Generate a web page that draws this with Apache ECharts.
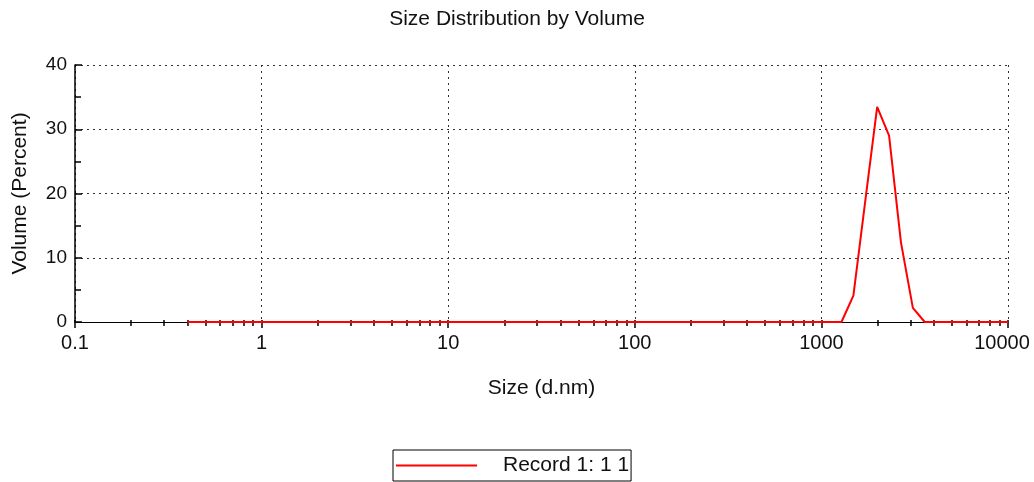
<!DOCTYPE html>
<html>
<head>
<meta charset="utf-8">
<script src="https://cdn.jsdelivr.net/npm/echarts@6/dist/echarts.min.js"></script>
<style>
  html, body { margin: 0; padding: 0; background: #fff; }
  #chart { width: 1034px; height: 482px; }
</style>
</head>
<body>
<div id="chart"></div>
<script>
// Size classes (d.nm) of the measurement, log-spaced from 0.4 to 10000
const sizes = [
  0.4, 0.4632, 0.5365, 0.6213, 0.7195, 0.8332, 0.9649, 1.117, 1.294, 1.499,
  1.736, 2.01, 2.328, 2.696, 3.122, 3.615, 4.187, 4.849, 5.615, 6.503,
  7.531, 8.721, 10.1, 11.7, 13.54, 15.69, 18.17, 21.04, 24.36, 28.21,
  32.67, 37.84, 43.82, 50.75, 58.77, 68.06, 78.82, 91.28, 105.7, 122.4,
  141.8, 164.2, 190.1, 220.2, 255.0, 295.3, 342.0, 396.1, 458.7, 531.2,
  615.1, 712.4, 825.0, 955.4, 1106, 1281, 1484, 1718, 1990, 2305,
  2669, 3091, 3580, 4145, 4801, 5560, 6439, 7456, 8635, 10000
];

// Volume (%) in each size class for Record 1
const volumes = [
  0, 0, 0, 0, 0, 0, 0, 0, 0, 0,
  0, 0, 0, 0, 0, 0, 0, 0, 0, 0,
  0, 0, 0, 0, 0, 0, 0, 0, 0, 0,
  0, 0, 0, 0, 0, 0, 0, 0, 0, 0,
  0, 0, 0, 0, 0, 0, 0, 0, 0, 0,
  0, 0, 0, 0, 0, 0, 4.1, 18.8, 33.5, 29.0,
  12.4, 2.2, 0, 0, 0, 0, 0, 0, 0, 0
];

// Axis tick values
const decadeTicks = [0.1, 1, 10, 100, 1000, 10000];
const minorTicks = [];
for (let d = 0; d < decadeTicks.length - 1; d++) {
  for (let m = 2; m <= 9; m++) {
    minorTicks.push(Number((decadeTicks[d] * m).toPrecision(6)));
  }
}
const allTicks = decadeTicks.concat(minorTicks);

const seriesName = 'Record 1: 1 1';
const FONT = 'Liberation Sans, Arial, sans-serif';
const INK = '#111';

const chart = echarts.init(document.getElementById('chart'), null, { renderer: 'canvas' });

const baseX = {
  type: 'log',
  logBase: 10,
  min: 0.1,
  max: 10000,
  position: 'bottom',
  gridIndex: 0
};

function sizeLabel(v) {
  const n = Number(Number(v).toPrecision(6));
  // the last label is nudged left so it stays inside the canvas
  return n === decadeTicks[decadeTicks.length - 1] ? '{last|' + n + '}' : String(n);
}

chart.setOption({
  animation: false,
  backgroundColor: '#fff',
  textStyle: { fontFamily: FONT, color: INK },
  title: {
    text: 'Size Distribution by Volume',
    left: 'center',
    top: 9,
    padding: 0,
    textStyle: { fontFamily: FONT, fontSize: 21, fontWeight: 'normal', color: INK }
  },
  grid: { left: 75, right: 26, top: 65, bottom: 160, containLabel: false, outerBoundsMode: 'none' },
  legend: {
    left: 393,
    top: 450,
    orient: 'horizontal',
    padding: [5, 2, 5, 3],
    borderColor: '#000',
    borderWidth: 1,
    icon: 'rect',
    itemWidth: 81,
    itemHeight: 2,
    selectedMode: false,
    textStyle: { fontFamily: FONT, fontSize: 21, color: INK, padding: [0, 0, 0, 21] },
    data: [seriesName]
  },
  xAxis: [
    Object.assign({}, baseX, {
      name: 'Size (d.nm)',
      nameLocation: 'middle',
      nameGap: 56,
      nameTextStyle: { fontFamily: FONT, fontSize: 21, color: INK },
      axisLine: { show: true, onZero: false, lineStyle: { color: '#000', width: 1 } },
      axisTick: { show: true, inside: false, length: 6, customValues: decadeTicks, lineStyle: { color: '#000', width: 1.5 } },
      axisLabel: {
        show: true,
        margin: 11,
        fontFamily: FONT,
        fontSize: 20,
        color: INK,
        customValues: decadeTicks,
        formatter: sizeLabel,
        rich: { last: { fontFamily: FONT, fontSize: 20, color: INK, padding: [0, 12, 0, 0] } }
      },
      splitLine: { show: true, lineStyle: { color: '#333', width: 1, type: [2, 4] } },
      minorTick: { show: false },
      minorSplitLine: { show: false }
    }),
    Object.assign({}, baseX, {
      axisLine: { show: false },
      axisTick: { show: true, inside: false, length: 4, customValues: minorTicks, lineStyle: { color: '#000', width: 1.5 } },
      axisLabel: { show: false },
      splitLine: { show: false }
    }),
    Object.assign({}, baseX, {
      axisLine: { show: false },
      axisTick: { show: true, inside: true, length: 2, customValues: allTicks, lineStyle: { color: '#000', width: 1.5 } },
      axisLabel: { show: false },
      splitLine: { show: false }
    })
  ],
  yAxis: {
    type: 'value',
    min: 0,
    max: 40,
    interval: 10,
    name: 'Volume (Percent)',
    nameLocation: 'middle',
    nameGap: 44,
    nameTextStyle: { fontFamily: FONT, fontSize: 21, color: INK },
    axisLine: { show: true, lineStyle: { color: '#000', width: 1.5 } },
    axisTick: { show: true, inside: true, length: 7, lineStyle: { color: '#000', width: 1.5 } },
    minorTick: { show: true, splitNumber: 2, length: 6, lineStyle: { color: '#000', width: 1.5 } },
    axisLabel: { margin: 8, fontFamily: FONT, fontSize: 19, color: INK },
    splitLine: { show: true, lineStyle: { color: '#333', width: 1, type: [2, 4] } }
  },
  series: [{
    name: seriesName,
    type: 'line',
    xAxisIndex: 0,
    yAxisIndex: 0,
    data: sizes.map((s, i) => [s, volumes[i]]),
    showSymbol: false,
    symbol: 'none',
    color: '#ff0000',
    lineStyle: { color: '#ff0000', width: 2 },
    z: 5
  }]
});
</script>
</body>
</html>
